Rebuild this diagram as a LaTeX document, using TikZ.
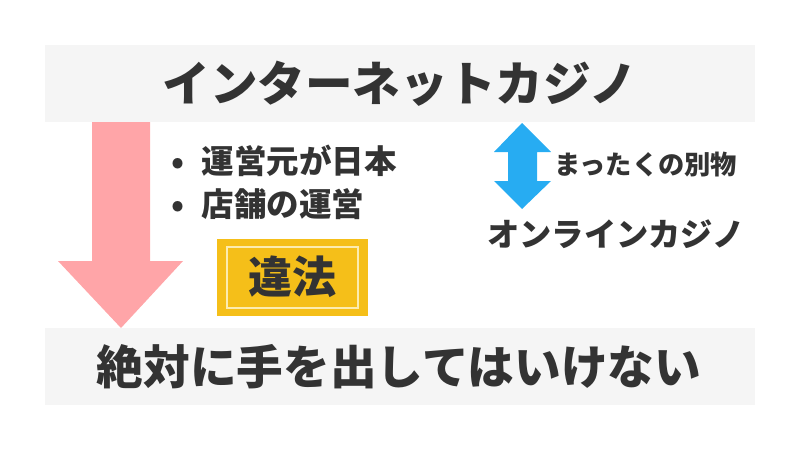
\documentclass[tikz,border=0pt]{standalone}
\usepackage{fontspec}
\usepackage{tikz}
\newfontfamily\jpfont{Noto Sans CJK JP}

\definecolor{bandgray}{RGB}{245,245,245}
\definecolor{textgray}{RGB}{51,51,51}
\definecolor{pinkarrow}{RGB}{255,165,168}
\definecolor{bluearrow}{RGB}{39,172,242}
\definecolor{ihouyellow}{RGB}{245,191,25}
\definecolor{ihoucream}{RGB}{252,236,176}

\begin{document}
\begin{tikzpicture}[x=0.75pt,y=0.75pt,yscale=-1,xscale=1,
    jptext/.style={inner sep=0.75pt,text=textgray,font=\jpfont\bfseries}]
    \useasboundingbox (0,0) rectangle (800,450);

    %Shape: Rectangle [id:top band]
    \fill[bandgray] (45,45) rectangle (755,122);
    %Shape: Rectangle [id:bottom band]
    \fill[bandgray] (45,328) rectangle (755,405);
    %Shape: Down Arrow [id:pink]
    \fill[pinkarrow] (92,122) -- (150,122) -- (150,261) -- (183,261) -- (121,328) -- (58,261) -- (92,261) -- cycle;
    %Shape: Up Down Arrow [id:blue]
    \fill[bluearrow] (522,123) -- (551,152) -- (537,152) -- (537,181) -- (551,181) -- (522,209) -- (494,181) -- (508,181) -- (508,152) -- (494,152) -- cycle;
    %Shape: Rectangle [id:ihou box]
    \fill[ihouyellow] (217,239) rectangle (368,316);
    \draw[ihoucream, line width=1.2] (227,247) rectangle (358,308);

    % Text Node
    \node[jptext, font=\jpfont\bfseries\fontsize{35.7}{35.7}\selectfont] (title) at (400,84) {インターネットカジノ};
    % Text Node
    \node[jptext, font=\jpfont\bfseries\fontsize{35}{35}\selectfont] (rule) at (399,367) {絶対に手を出してはいけない};
    % Text Node
    \node[jptext, anchor=west, font=\jpfont\bfseries\fontsize{24.4}{24.4}\selectfont] (unei) at (170,161) {•\hspace{13pt}運営元が日本};
    % Text Node
    \node[jptext, anchor=west, font=\jpfont\bfseries\fontsize{24.4}{24.4}\selectfont] (tenpo) at (170,204) {•\hspace{13pt}店舗の運営};
    % Text Node
    \node[jptext, font=\jpfont\bfseries\fontsize{33}{33}\selectfont] (ihou) at (292,277) {違法};
    % Text Node
    \node[jptext, anchor=west, font=\jpfont\bfseries\fontsize{19.7}{19.7}\selectfont] (betsu) at (553,165) {まったくの別物};
    % Text Node
    \node[jptext, anchor=west, font=\jpfont\bfseries\fontsize{24.2}{24.2}\selectfont] (online) at (486,234) {オンラインカジノ};

\end{tikzpicture}
\end{document}
